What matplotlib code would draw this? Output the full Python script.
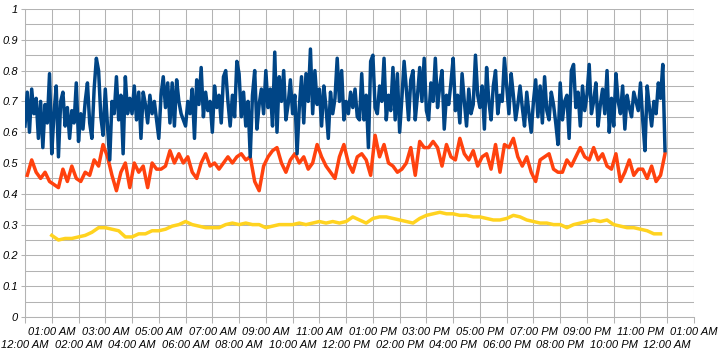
import numpy as np
import matplotlib
matplotlib.use("Agg")
import matplotlib.pyplot as plt
from matplotlib.ticker import MultipleLocator, FixedLocator

# ---- data ----
# series 1: 5-minute samples 00:00 .. 23:55 (one row per hour)
blue = [
    0.62, 0.73, 0.60, 0.74, 0.66, 0.71, 0.58, 0.70, 0.55, 0.69, 0.63, 0.79,
    0.53, 0.66, 0.75, 0.52, 0.70, 0.73, 0.62, 0.68, 0.58, 0.67, 0.63, 0.76,
    0.57, 0.66, 0.61, 0.70, 0.76, 0.63, 0.58, 0.74, 0.84, 0.80, 0.65, 0.59,
    0.74, 0.62, 0.51, 0.70, 0.66, 0.78, 0.64, 0.72, 0.53, 0.78, 0.66, 0.71,
    0.66, 0.75, 0.64, 0.73, 0.58, 0.73, 0.69, 0.63, 0.72, 0.66, 0.70, 0.64,
    0.58, 0.72, 0.78, 0.68, 0.76, 0.63, 0.76, 0.62, 0.77, 0.70, 0.66, 0.64,
    0.62, 0.70, 0.66, 0.74, 0.58, 0.77, 0.69, 0.81, 0.65, 0.73, 0.67, 0.70,
    0.60, 0.75, 0.68, 0.72, 0.63, 0.78, 0.80, 0.70, 0.62, 0.72, 0.65, 0.83,
    0.79, 0.65, 0.73, 0.62, 0.70, 0.52, 0.72, 0.80, 0.61, 0.69, 0.74, 0.66,
    0.80, 0.68, 0.74, 0.62, 0.86, 0.60, 0.78, 0.70, 0.80, 0.64, 0.69, 0.77,
    0.66, 0.72, 0.53, 0.68, 0.78, 0.63, 0.79, 0.70, 0.87, 0.66, 0.80, 0.69,
    0.74, 0.62, 0.75, 0.68, 0.58, 0.73, 0.66, 0.71, 0.84, 0.70, 0.80, 0.64,
    0.70, 0.66, 0.73, 0.68, 0.74, 0.65, 0.64, 0.79, 0.64, 0.72, 0.55, 0.83,
    0.85, 0.68, 0.66, 0.75, 0.70, 0.84, 0.64, 0.72, 0.67, 0.81, 0.64, 0.79,
    0.60, 0.71, 0.83, 0.74, 0.64, 0.77, 0.80, 0.64, 0.72, 0.81, 0.70, 0.84,
    0.67, 0.64, 0.76, 0.70, 0.84, 0.68, 0.75, 0.80, 0.61, 0.72, 0.69, 0.76,
    0.84, 0.67, 0.72, 0.63, 0.79, 0.70, 0.62, 0.74, 0.66, 0.69, 0.85, 0.72,
    0.68, 0.75, 0.61, 0.81, 0.70, 0.64, 0.75, 0.80, 0.66, 0.72, 0.70, 0.84,
    0.75, 0.66, 0.79, 0.72, 0.64, 0.69, 0.75, 0.68, 0.62, 0.73, 0.66, 0.60,
    0.70, 0.77, 0.65, 0.75, 0.63, 0.78, 0.67, 0.64, 0.73, 0.69, 0.63, 0.56,
    0.76, 0.64, 0.70, 0.72, 0.58, 0.80, 0.82, 0.68, 0.73, 0.62, 0.75, 0.67,
    0.72, 0.82, 0.66, 0.70, 0.76, 0.62, 0.69, 0.74, 0.66, 0.80, 0.60, 0.71,
    0.62, 0.79, 0.70, 0.66, 0.75, 0.61, 0.72, 0.68, 0.65, 0.73, 0.70, 0.67,
    0.76, 0.64, 0.54, 0.75, 0.68, 0.62, 0.70, 0.66, 0.76, 0.71, 0.82, 0.54,
]

# series 2: 10-minute samples 00:05 .. 23:55 (one row per hour)
orange = [
    0.46, 0.51, 0.47, 0.45, 0.47, 0.44,
    0.43, 0.42, 0.48, 0.44, 0.49, 0.45,
    0.44, 0.47, 0.46, 0.51, 0.49, 0.56,
    0.52, 0.46, 0.41, 0.47, 0.50, 0.42,
    0.50, 0.47, 0.49, 0.42, 0.50, 0.48,
    0.48, 0.49, 0.54, 0.50, 0.53, 0.50,
    0.52, 0.47, 0.45, 0.50, 0.53, 0.49,
    0.50, 0.48, 0.50, 0.52, 0.50, 0.52,
    0.53, 0.51, 0.52, 0.44, 0.41, 0.49,
    0.52, 0.54, 0.55, 0.50, 0.47, 0.51,
    0.53, 0.50, 0.52, 0.48, 0.50, 0.56,
    0.52, 0.49, 0.47, 0.45, 0.52, 0.56,
    0.50, 0.47, 0.52, 0.53, 0.51, 0.46,
    0.59, 0.52, 0.56, 0.50, 0.49, 0.47,
    0.48, 0.50, 0.55, 0.46, 0.57, 0.55,
    0.55, 0.57, 0.55, 0.49, 0.56, 0.52,
    0.51, 0.58, 0.53, 0.51, 0.54, 0.49,
    0.52, 0.53, 0.48, 0.56, 0.47, 0.56,
    0.55, 0.58, 0.52, 0.49, 0.52, 0.47,
    0.44, 0.51, 0.52, 0.53, 0.48, 0.47,
    0.47, 0.51, 0.49, 0.52, 0.55, 0.52,
    0.51, 0.55, 0.51, 0.53, 0.49, 0.48,
    0.53, 0.44, 0.47, 0.51, 0.46, 0.48,
    0.48, 0.45, 0.49, 0.44, 0.46, 0.53,
]

# series 3: 15-minute samples 01:00 .. 23:45 (one row per hour)
yellow = [
    0.265, 0.250, 0.255, 0.255,
    0.260, 0.265, 0.275, 0.290,
    0.290, 0.285, 0.280, 0.260,
    0.260, 0.270, 0.270, 0.280,
    0.280, 0.285, 0.295, 0.300,
    0.310, 0.300, 0.295, 0.290,
    0.290, 0.290, 0.300, 0.305,
    0.300, 0.305, 0.300, 0.300,
    0.290, 0.295, 0.300, 0.300,
    0.300, 0.305, 0.300, 0.305,
    0.310, 0.305, 0.310, 0.305,
    0.310, 0.325, 0.315, 0.305,
    0.320, 0.325, 0.325, 0.320,
    0.315, 0.310, 0.305, 0.320,
    0.330, 0.335, 0.340, 0.335,
    0.335, 0.330, 0.330, 0.325,
    0.325, 0.320, 0.315, 0.315,
    0.320, 0.330, 0.325, 0.315,
    0.310, 0.305, 0.305, 0.300,
    0.300, 0.290, 0.300, 0.305,
    0.310, 0.315, 0.310, 0.315,
    0.300, 0.295, 0.290, 0.290,
    0.285, 0.280, 0.270, 0.270,
]

tick_labels = [
    "12:00 AM", "01:00 AM", "02:00 AM", "03:00 AM", "04:00 AM", "05:00 AM",
    "06:00 AM", "07:00 AM", "08:00 AM", "09:00 AM", "10:00 AM", "11:00 AM",
    "12:00 PM", "01:00 PM", "02:00 PM", "03:00 PM", "04:00 PM", "05:00 PM",
    "06:00 PM", "07:00 PM", "08:00 PM", "09:00 PM", "10:00 PM", "11:00 PM",
    "12:00 AM", "01:00 AM",
]
y_ticks = [0, 0.1, 0.2, 0.3, 0.4, 0.5, 0.6, 0.7, 0.8, 0.9, 1]
y_tick_labels = ["0", "0.1", "0.2", "0.3", "0.4", "0.5", "0.6", "0.7", "0.8", "0.9", "1"]

# time axes in hours
t_blue = np.arange(len(blue)) * 5 / 60.0
t_orange = (5 + np.arange(len(orange)) * 10) / 60.0
t_yellow = 1 + np.arange(len(yellow)) * 15 / 60.0

# ---- figure ----
fig = plt.figure(figsize=(7.23, 3.58), dpi=100)
ax = fig.add_axes([25 / 723, 1 - 317 / 358, (694 - 25) / 723, (317 - 9) / 358])

grid_c = "#b3b3b3"
lw = 2.5
ax.plot(t_yellow, yellow, color="#ffd320", lw=lw, solid_joinstyle="round", zorder=3)
ax.plot(t_orange, orange, color="#ff420e", lw=lw, solid_joinstyle="round", zorder=4)
ax.plot(t_blue, blue, color="#004586", lw=lw, solid_joinstyle="round", zorder=5)

ax.set_xlim(0, 25)
ax.set_ylim(0, 1)

font = dict(fontfamily="Liberation Sans", fontstyle="italic", fontsize=8)
odd_pos = list(range(1, len(tick_labels), 2))
even_pos = list(range(0, len(tick_labels), 2))
ax.set_xticks(odd_pos)
ax.set_xticklabels([tick_labels[i] for i in odd_pos], **font)
ax.set_xticks(even_pos, minor=True)
ax.set_xticklabels([tick_labels[i] for i in even_pos], minor=True, **font)

ax.set_yticks(y_ticks)
ax.set_yticklabels(y_tick_labels, **font)
ax.yaxis.set_minor_locator(MultipleLocator(0.05))

ax.tick_params(axis="x", which="major", length=4.5, width=0.75, color=grid_c, pad=2.5)
ax.tick_params(axis="x", which="minor", length=4.5, width=0.75, color=grid_c, pad=12)
ax.tick_params(axis="y", which="major", length=3, width=0.75, color=grid_c, pad=2)
ax.tick_params(axis="y", which="minor", length=0)

ax.grid(True, which="both", axis="x", color=grid_c, lw=0.75)
ax.grid(True, which="both", axis="y", color=grid_c, lw=0.75)
ax.set_axisbelow(True)
for s in ax.spines.values():
    s.set_color(grid_c)
    s.set_linewidth(0.75)
ax.spines["top"].set_visible(False)
ax.spines["right"].set_visible(False)

fig.savefig("out.png", dpi=100)
